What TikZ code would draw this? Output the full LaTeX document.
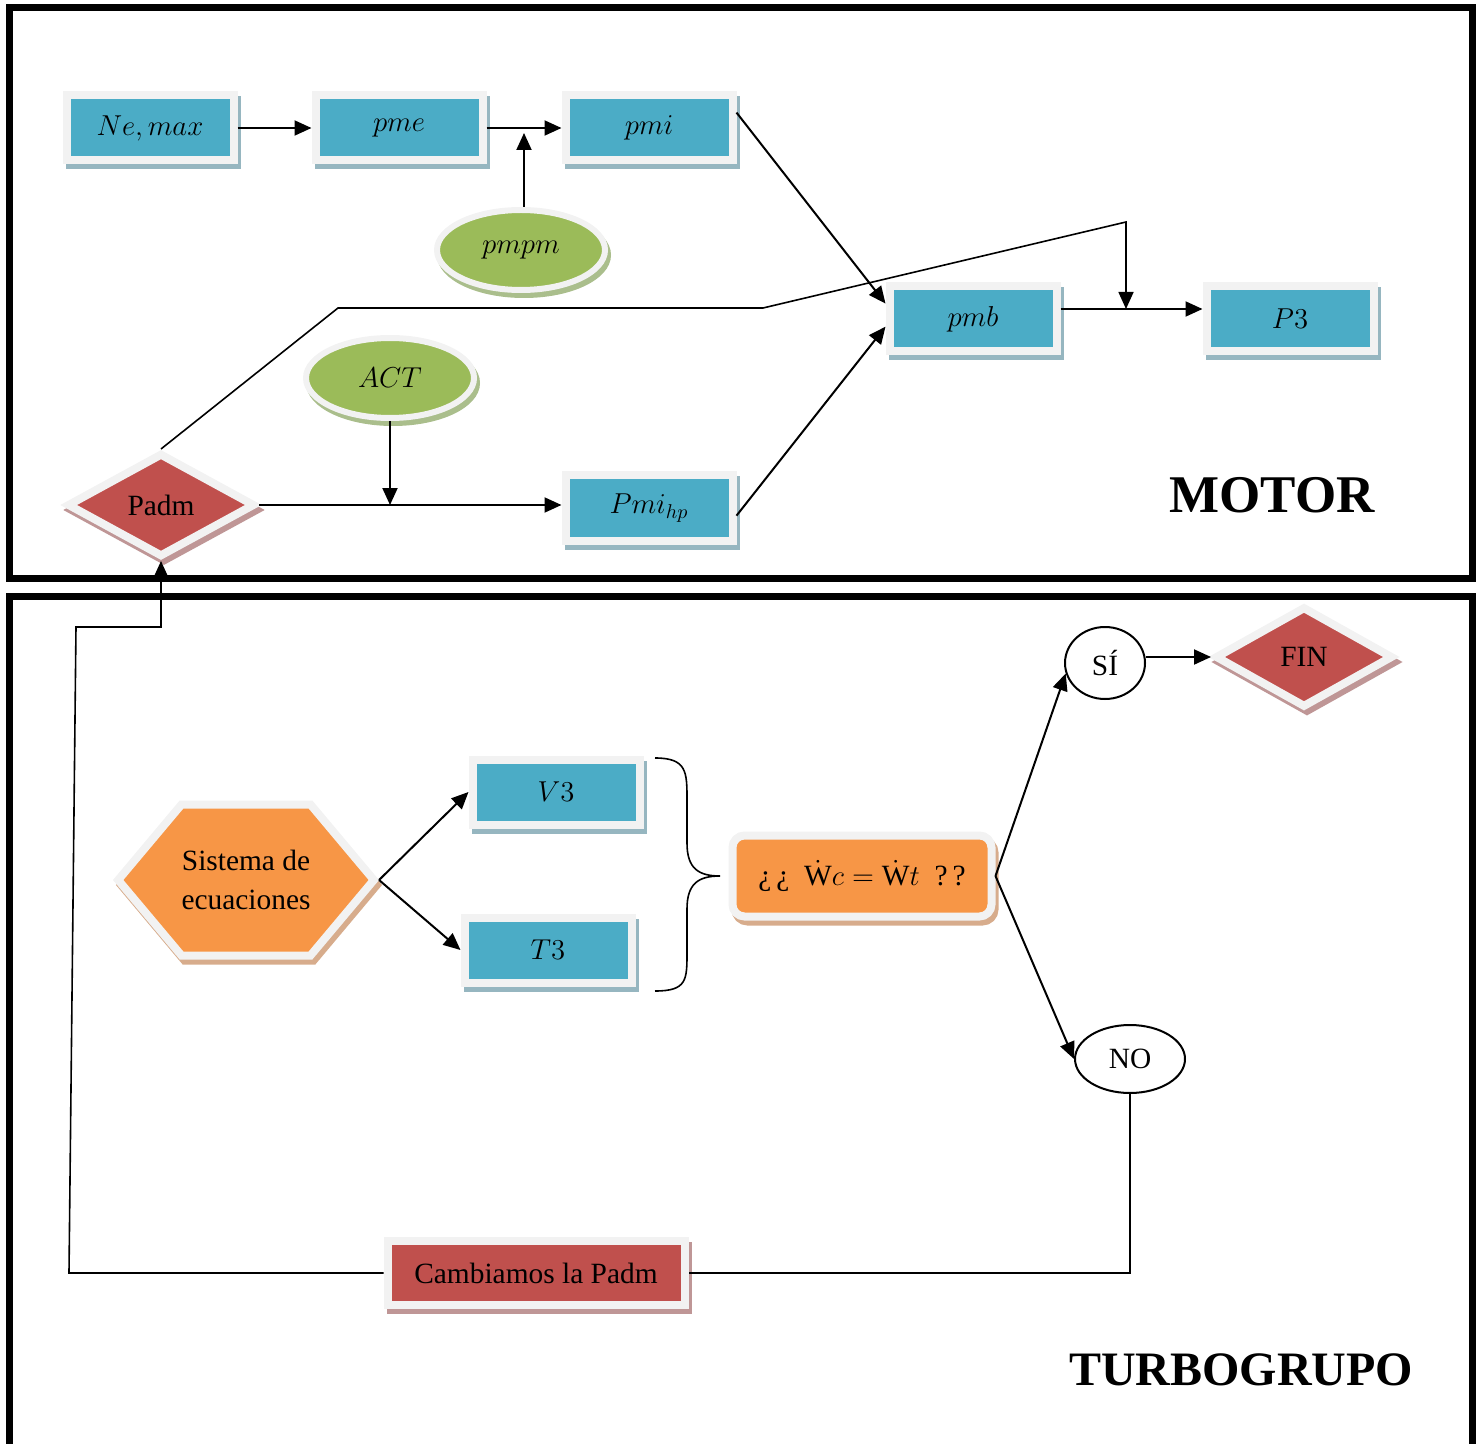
\documentclass[tikz,border=0pt]{standalone}
\usepackage{fontspec}
\setmainfont{Liberation Serif}
\usepackage{tikz}
\usetikzlibrary{shapes.geometric,shapes.symbols,shadows,arrows.meta,calc}

\definecolor{azul}{HTML}{4BACC6}
\definecolor{sombraazul}{RGB}{150,182,192}
\definecolor{rojo}{HTML}{C0504D}
\definecolor{sombraroja}{RGB}{191,150,150}
\definecolor{verde}{HTML}{9BBB59}
\definecolor{sombraverde}{RGB}{170,190,140}
\definecolor{naranja}{HTML}{F79646}
\definecolor{sombranaranja}{RGB}{215,172,140}
\definecolor{borde}{HTML}{F2F2F2}

\begin{document}
\begin{tikzpicture}[x=0.5pt, y=-0.5pt,
  every node/.style={font=\fontsize{14.7}{19.5}\selectfont},
  sombra/.style={drop shadow={shadow xshift=1.5pt, shadow yshift=-2.5pt, opacity=1, fill=#1, draw=#1}},
  marco/.style={draw=borde, line width=4pt, inner sep=0pt},
  caja/.style={marco, rectangle, fill=azul, sombra=sombraazul, minimum width=83.5pt, minimum height=32.5pt},
  cajaroja/.style={marco, rectangle, fill=rojo, sombra=sombraroja, minimum width=148.5pt, minimum height=32pt},
  elipse/.style={marco, ellipse, line width=3pt, fill=verde, sombra=sombraverde, minimum width=84pt, minimum height=40pt},
  rombo/.style={marco, diamond, fill=rojo, sombra=sombraroja, minimum width=94pt, minimum height=52pt},
  hexa/.style={marco, signal, signal to=west and east, signal pointer angle=100, fill=naranja, sombra=sombranaranja, minimum width=126.5pt, minimum height=75.5pt, align=center},
  pregunta/.style={marco, rectangle, rounded corners=6pt, fill=naranja, sombra=sombranaranja, minimum width=129.5pt, minimum height=40.5pt},
  decision/.style={ellipse, draw, line width=1pt, fill=white, inner sep=0pt},
  flecha/.style={-{Triangle[length=8.5pt,width=7.5pt]}, line width=1pt},
  linea/.style={line width=0.8pt},
  marcogrande/.style={line width=3.5pt},
  titulo/.style={font=\fontsize{26.5}{30}\selectfont\bfseries}]
\useasboundingbox (0,0) rectangle (1483,1444);
\draw[marcogrande] (9,8) rectangle (1472,578);
\draw[marcogrande] (9,1460) -- (9,596) -- (1472,596) -- (1472,1460);

\node[caja] (nemax) at (150,128) {$Ne,max$};
\node[caja] (pme) at (399,128) {$pme$};
\node[caja] (pmi) at (649,128) {$pmi$};
\node[elipse] (pmpm) at (521,250) {$pmpm$};
\node[caja] (pmb) at (973,319) {$pmb$};
\node[caja] (p3) at (1290,319) {$P3$};
\node[elipse] (act) at (390,378) {$ACT$};
\node[rombo] (padm) at (161,505) {Padm};
\node[caja] (pmihp) at (649,508) {$Pmi_{hp}$};
\node[titulo] (motor) at (1272,495) {MOTOR};

\node[decision, minimum width=40pt, minimum height=36pt] (si) at (1105,663) {SÍ};
\node[rombo, minimum width=89pt, minimum height=50.5pt] (fin) at (1304,657) {FIN};
\node[hexa] (sistema) at (246,880) {Sistema de\\ecuaciones};
\node[caja] (v3) at (556,792) {$V3$};
\node[caja] (t3) at (548,950) {$T3$};
\node[pregunta] (cond) at (862,876) {¿\,¿\enspace$\dot{\mathrm{W}}c=\dot{\mathrm{W}}t$\enspace?\,?};
\node[decision, minimum width=55pt, minimum height=34pt] (no) at (1130,1059) {NO};
\node[cajaroja] (cambio) at (536,1273) {Cambiamos la Padm};
\node[titulo, font=\fontsize{24}{28}\selectfont\bfseries] (turbo) at (1241,1370) {TURBOGRUPO};

\coordinate (pmejunta) at ($(pme.east)!0.5!(pmi.west)$);
\coordinate (pmbsal) at ([yshift=5pt]pmb.east);
\coordinate (sube) at (338,308);
\coordinate (cruza) at (763,308);
\coordinate (cima) at (1126,222);
\coordinate (abajo) at (69,1273);
\coordinate (vuelta) at (76,627);

\draw[flecha] (nemax) -- (pme);
\draw[flecha] (pme) -- (pmi);
\draw[flecha] (pmpm.north -| pmejunta) -- ([yshift=-2.5pt]pmejunta);
\draw[flecha] (pmi.10) -- (pmb.170);
\draw[flecha] (pmihp.-5) -- (pmb.-175);
\draw[flecha] (pmbsal) -- (pmbsal -| p3.west);
\draw[flecha, line width=0.8pt] (padm.north) -- (sube) -- (cruza) -- (cima) -- (cima |- pmbsal);
\draw[flecha] (padm.east) -- (padm.east -| pmihp.west);
\draw[flecha] (act.south) -- (act.south |- padm.east);

\draw[flecha] (sistema.east) -- (v3.west);
\draw[flecha] (sistema.east) -- (t3.west);
\draw[linea] (655,758) .. controls (687,758) and (687,772) .. (687,800) -- (687,843)
  .. controls (687,868) and (698,876) .. (720,876)
  .. controls (698,876) and (687,884) .. (687,909) -- (687,952)
  .. controls (687,980) and (687,991) .. (655,991);
\draw[flecha] (cond.east) -- (si.195);
\draw[flecha] (cond.east) -- (no.west);
\draw[flecha] (si.east |- fin.west) -- (fin.west);
\draw[linea] (no.south) |- (cambio.east);
\draw[flecha, line width=0.8pt] (cambio.west) -- (abajo) -- (vuelta) -- (vuelta -| padm.south) -- (padm.south);
\end{tikzpicture}
\end{document}
